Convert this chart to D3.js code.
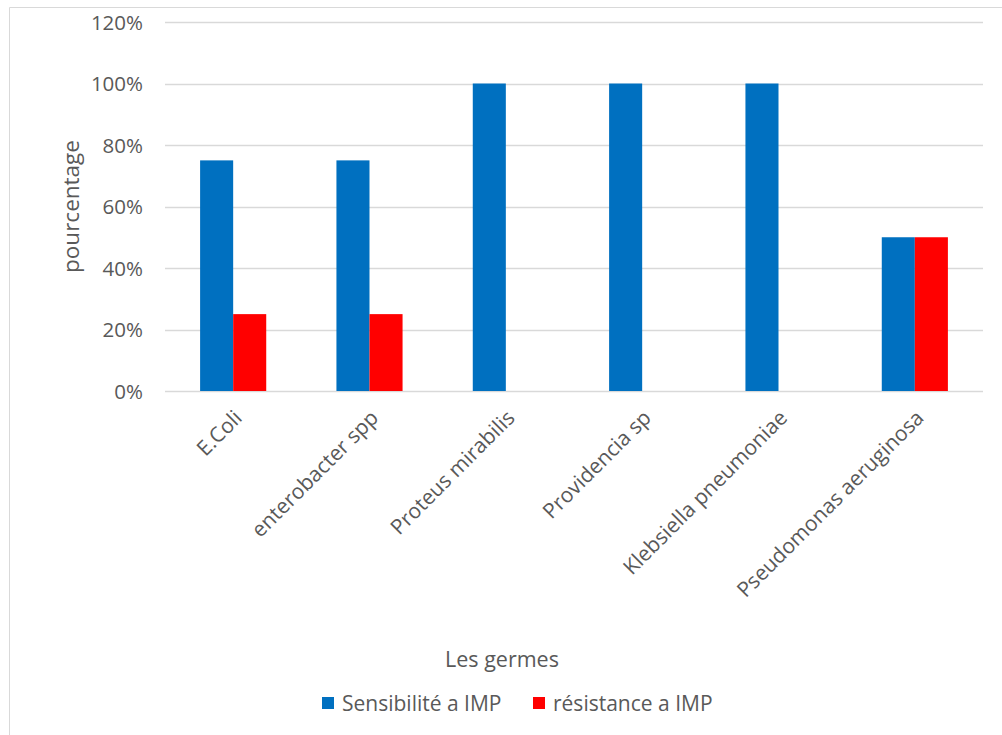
<!DOCTYPE html>
<html>
<head>
<meta charset="utf-8">
<script src="https://cdn.jsdelivr.net/npm/d3@7"></script>
<style>
  html, body { margin: 0; padding: 0; background: #fff; }
  svg text { font-family: "Open Sans", "Noto Sans", sans-serif; fill: #595959; }
</style>
</head>
<body>
<svg id="chart" width="1002" height="735"></svg>
<script>
// Germs tested and their imipenem (IMP) susceptibility profile, in percent
const germs = ["E.Coli", "enterobacter spp", "Proteus mirabilis", "Providencia sp", "Klebsiella pneumoniae", "Pseudomonas aeruginosa"];
const sensibilite = [75, 75, 100, 100, 100, 50];
const resistance = [25, 25, 0, 0, 0, 50];
const seriesNames = ["Sensibilité a IMP", "résistance a IMP"];
const seriesColors = ["#0070C0", "#FF0000"];
const yTicks = [0, 20, 40, 60, 80, 100, 120];

const svg = d3.select("#chart");

// Chart-area frame (left and top edges)
svg.append("path")
  .attr("d", "M9.5,735 V7.5 H1002")
  .attr("fill", "none")
  .attr("stroke", "#d9d9d9")
  .attr("stroke-width", 1);

const plot = { left: 165, right: 983, top: 22, bottom: 391 };

const x0 = d3.scaleBand().domain(germs).range([plot.left, plot.right]).paddingInner(0.515).paddingOuter(0.2575);
const x1 = d3.scaleBand().domain([0, 1]).range([0, x0.bandwidth()]);
const y = d3.scaleLinear().domain([0, 120]).range([plot.bottom, plot.top]);

// Horizontal gridlines
svg.append("g").selectAll("line").data(yTicks).join("line")
  .attr("x1", plot.left).attr("x2", plot.right)
  .attr("y1", d => Math.round(y(d)) + 0.5).attr("y2", d => Math.round(y(d)) + 0.5)
  .attr("stroke", "#d9d9d9").attr("stroke-width", 1.3);

// Y axis tick labels
const yAxis = d3.axisLeft(y).tickValues(yTicks).tickFormat(d => d + "%").tickSize(0).tickPadding(0);
const gy = svg.append("g").attr("transform", `translate(${plot.left - 22},0)`).call(yAxis);
gy.select(".domain").remove();
gy.selectAll("text").attr("font-size", 20.5).attr("font-family", null).attr("fill", "#595959").attr("dy", "0.36em");

// Bars
const series = [sensibilite, resistance];
const groups = svg.append("g").selectAll("g").data(germs).join("g")
  .attr("transform", d => `translate(${x0(d)},0)`);
groups.selectAll("rect")
  .data((g, i) => series.map((s, k) => ({ k, v: s[i] })).filter(d => d.v > 0))
  .join("rect")
  .attr("x", d => x1(d.k))
  .attr("width", x1.bandwidth())
  .attr("y", d => y(d.v))
  .attr("height", d => y(0) - y(d.v))
  .attr("fill", d => seriesColors[d.k]);

// Category labels, rotated
svg.append("g").selectAll("text").data(germs).join("text")
  .attr("transform", d => `translate(${x0(d) + x0.bandwidth() / 2 + 5},414) rotate(-45)`)
  .attr("text-anchor", "end")
  .attr("dy", "0.35em")
  .attr("font-size", 21)
  .text(d => d);

// Axis titles
svg.append("text")
  .attr("transform", `translate(79,${(plot.top + plot.bottom) / 2}) rotate(-90)`)
  .attr("text-anchor", "middle")
  .attr("font-size", 22.5)
  .text("pourcentage");

svg.append("text")
  .attr("x", 502).attr("y", 667)
  .attr("text-anchor", "middle")
  .attr("font-size", 21.5)
  .text("Les germes");

// Legend
const legendX = [322, 533];
const legend = svg.append("g").selectAll("g").data(seriesNames).join("g")
  .attr("transform", (d, i) => `translate(${legendX[i]},697)`);
legend.append("rect").attr("width", 12).attr("height", 12).attr("fill", (d, i) => seriesColors[i]);
legend.append("text").attr("x", 20).attr("y", 6).attr("dy", "0.36em").attr("font-size", 21).text(d => d);
</script>
</body>
</html>
